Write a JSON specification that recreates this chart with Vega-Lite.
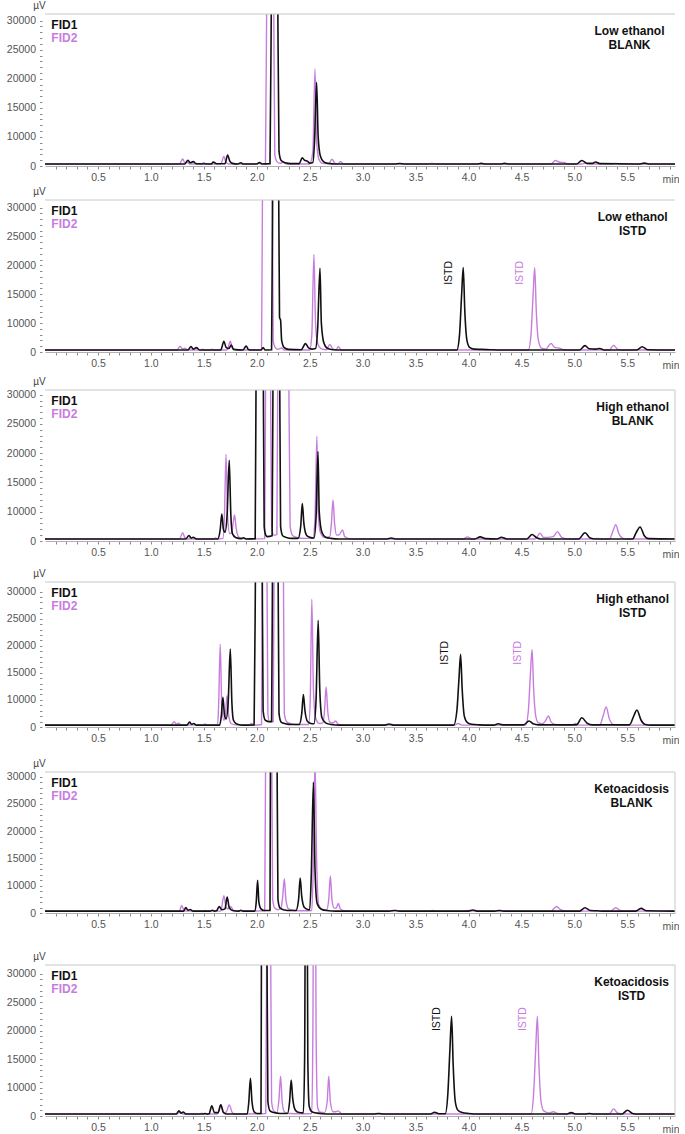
{
"$schema": "https://vega.github.io/schema/vega-lite/v6.json",
"background": "white",
"padding": {"left": 6, "top": 0, "right": 0, "bottom": 0},
"config": {"view": {"stroke": null}, "font": "Liberation Sans", "axis": {"labelOverlap": false}},
"bounds": "flush",
"spacing": 34,
"datasets": {
"p1": [
{"s":1,"t":0,"v":700},{"s":1,"t":1.32,"v":700},{"s":1,"t":1.35,"v":2000},{"s":1,"t":1.37,"v":1100},{"s":1,"t":1.40,"v":1500},{"s":1,"t":1.43,"v":750},{"s":1,"t":1.57,"v":700},{"s":1,"t":1.59,"v":1400},{"s":1,"t":1.62,"v":750},{"s":1,"t":1.70,"v":800},{"s":1,"t":1.725,"v":3800},{"s":1,"t":1.745,"v":1700},{"s":1,"t":1.77,"v":900},{"s":1,"t":1.82,"v":700},{"s":1,"t":1.85,"v":1100},{"s":1,"t":1.87,"v":700},{"s":1,"t":2.0,"v":700},{"s":1,"t":2.025,"v":1200},{"s":1,"t":2.05,"v":700},{"s":1,"t":2.125,"v":800},{"s":1,"t":2.14,"v":40000},{"s":1,"t":2.168,"v":90000},{"s":1,"t":2.196,"v":40000},{"s":1,"t":2.21,"v":5000},{"s":1,"t":2.23,"v":1900},{"s":1,"t":2.27,"v":1100},{"s":1,"t":2.32,"v":800},{"s":1,"t":2.40,"v":800},{"s":1,"t":2.43,"v":2800},{"s":1,"t":2.45,"v":2000},{"s":1,"t":2.48,"v":1600},{"s":1,"t":2.50,"v":1000},{"s":1,"t":2.53,"v":1200},{"s":1,"t":2.545,"v":8000},{"s":1,"t":2.565,"v":19400},{"s":1,"t":2.58,"v":10000},{"s":1,"t":2.60,"v":3500},{"s":1,"t":2.63,"v":1500},{"s":1,"t":2.67,"v":900},{"s":1,"t":2.75,"v":700},{"s":1,"t":3.3,"v":700},{"s":1,"t":3.35,"v":850},{"s":1,"t":3.4,"v":700},{"s":1,"t":4.08,"v":700},{"s":1,"t":4.12,"v":900},{"s":1,"t":4.16,"v":700},{"s":1,"t":4.3,"v":700},{"s":1,"t":4.34,"v":900},{"s":1,"t":4.38,"v":700},{"s":1,"t":5.02,"v":700},{"s":1,"t":5.07,"v":1900},{"s":1,"t":5.12,"v":900},{"s":1,"t":5.17,"v":900},{"s":1,"t":5.2,"v":1400},{"s":1,"t":5.24,"v":800},{"s":1,"t":5.62,"v":700},{"s":1,"t":5.66,"v":1000},{"s":1,"t":5.7,"v":700},{"s":1,"t":5.95,"v":700},
{"s":2,"t":0,"v":700},{"s":2,"t":1.27,"v":700},{"s":2,"t":1.30,"v":2400},{"s":2,"t":1.32,"v":1200},{"s":2,"t":1.34,"v":1300},{"s":2,"t":1.37,"v":700},{"s":2,"t":1.48,"v":700},{"s":2,"t":1.50,"v":1100},{"s":2,"t":1.52,"v":700},{"s":2,"t":1.66,"v":700},{"s":2,"t":1.69,"v":3300},{"s":2,"t":1.71,"v":1200},{"s":2,"t":1.74,"v":700},{"s":2,"t":2.082,"v":800},{"s":2,"t":2.096,"v":40000},{"s":2,"t":2.128,"v":90000},{"s":2,"t":2.158,"v":40000},{"s":2,"t":2.17,"v":4000},{"s":2,"t":2.19,"v":1500},{"s":2,"t":2.22,"v":900},{"s":2,"t":2.25,"v":1300},{"s":2,"t":2.28,"v":700},{"s":2,"t":2.5,"v":700},{"s":2,"t":2.53,"v":5000},{"s":2,"t":2.55,"v":21700},{"s":2,"t":2.565,"v":9000},{"s":2,"t":2.585,"v":2500},{"s":2,"t":2.62,"v":900},{"s":2,"t":2.68,"v":800},{"s":2,"t":2.71,"v":2300},{"s":2,"t":2.74,"v":900},{"s":2,"t":2.77,"v":800},{"s":2,"t":2.79,"v":1500},{"s":2,"t":2.82,"v":700},{"s":2,"t":3.6,"v":700},{"s":2,"t":3.65,"v":900},{"s":2,"t":3.7,"v":700},{"s":2,"t":4.78,"v":700},{"s":2,"t":4.82,"v":1900},{"s":2,"t":4.86,"v":1300},{"s":2,"t":4.9,"v":1200},{"s":2,"t":4.94,"v":700},{"s":2,"t":5.07,"v":700},{"s":2,"t":5.1,"v":900},{"s":2,"t":5.14,"v":700},{"s":2,"t":5.36,"v":700},{"s":2,"t":5.39,"v":900},{"s":2,"t":5.43,"v":700},{"s":2,"t":5.95,"v":700}
],
"p2": [
{"s":1,"t":0,"v":700},{"s":1,"t":1.35,"v":700},{"s":1,"t":1.38,"v":1900},{"s":1,"t":1.40,"v":1000},{"s":1,"t":1.43,"v":1500},{"s":1,"t":1.46,"v":700},{"s":1,"t":1.66,"v":700},{"s":1,"t":1.69,"v":3700},{"s":1,"t":1.71,"v":1600},{"s":1,"t":1.735,"v":1200},{"s":1,"t":1.76,"v":2400},{"s":1,"t":1.78,"v":900},{"s":1,"t":1.87,"v":700},{"s":1,"t":1.90,"v":2100},{"s":1,"t":1.92,"v":900},{"s":1,"t":1.95,"v":700},{"s":1,"t":2.04,"v":700},{"s":1,"t":2.06,"v":1500},{"s":1,"t":2.08,"v":700},{"s":1,"t":2.14,"v":800},{"s":1,"t":2.152,"v":40000},{"s":1,"t":2.18,"v":90000},{"s":1,"t":2.205,"v":40000},{"s":1,"t":2.215,"v":11000},{"s":1,"t":2.225,"v":10500},{"s":1,"t":2.235,"v":4000},{"s":1,"t":2.26,"v":1500},{"s":1,"t":2.3,"v":900},{"s":1,"t":2.42,"v":800},{"s":1,"t":2.46,"v":2900},{"s":1,"t":2.49,"v":1400},{"s":1,"t":2.52,"v":1000},{"s":1,"t":2.555,"v":1200},{"s":1,"t":2.575,"v":8000},{"s":1,"t":2.597,"v":19500},{"s":1,"t":2.61,"v":10000},{"s":1,"t":2.635,"v":3000},{"s":1,"t":2.67,"v":1200},{"s":1,"t":2.72,"v":800},{"s":1,"t":2.8,"v":700},{"s":1,"t":3.89,"v":700},{"s":1,"t":3.915,"v":6000},{"s":1,"t":3.935,"v":15000},{"s":1,"t":3.95,"v":19600},{"s":1,"t":3.965,"v":12000},{"s":1,"t":3.985,"v":4000},{"s":1,"t":4.01,"v":1600},{"s":1,"t":4.05,"v":1000},{"s":1,"t":4.12,"v":900},{"s":1,"t":4.2,"v":800},{"s":1,"t":4.3,"v":700},{"s":1,"t":5.05,"v":700},{"s":1,"t":5.10,"v":2200},{"s":1,"t":5.14,"v":1100},{"s":1,"t":5.2,"v":1000},{"s":1,"t":5.24,"v":1200},{"s":1,"t":5.28,"v":700},{"s":1,"t":5.59,"v":700},{"s":1,"t":5.64,"v":1800},{"s":1,"t":5.69,"v":800},{"s":1,"t":5.95,"v":700},
{"s":2,"t":0,"v":700},{"s":2,"t":1.25,"v":700},{"s":2,"t":1.275,"v":2000},{"s":2,"t":1.30,"v":1100},{"s":2,"t":1.32,"v":1300},{"s":2,"t":1.35,"v":700},{"s":2,"t":1.47,"v":700},{"s":2,"t":1.49,"v":1000},{"s":2,"t":1.51,"v":700},{"s":2,"t":1.56,"v":700},{"s":2,"t":1.58,"v":1000},{"s":2,"t":1.60,"v":700},{"s":2,"t":1.72,"v":700},{"s":2,"t":1.75,"v":3700},{"s":2,"t":1.77,"v":1300},{"s":2,"t":1.80,"v":700},{"s":2,"t":2.045,"v":800},{"s":2,"t":2.056,"v":40000},{"s":2,"t":2.10,"v":90000},{"s":2,"t":2.145,"v":40000},{"s":2,"t":2.155,"v":4000},{"s":2,"t":2.175,"v":1500},{"s":2,"t":2.2,"v":900},{"s":2,"t":2.235,"v":1400},{"s":2,"t":2.26,"v":700},{"s":2,"t":2.50,"v":700},{"s":2,"t":2.52,"v":6000},{"s":2,"t":2.54,"v":21900},{"s":2,"t":2.555,"v":10000},{"s":2,"t":2.575,"v":3000},{"s":2,"t":2.61,"v":1100},{"s":2,"t":2.66,"v":800},{"s":2,"t":2.69,"v":2600},{"s":2,"t":2.72,"v":1000},{"s":2,"t":2.75,"v":800},{"s":2,"t":2.77,"v":1800},{"s":2,"t":2.80,"v":700},{"s":2,"t":4.565,"v":700},{"s":2,"t":4.59,"v":6000},{"s":2,"t":4.61,"v":15000},{"s":2,"t":4.625,"v":19600},{"s":2,"t":4.64,"v":12000},{"s":2,"t":4.66,"v":4000},{"s":2,"t":4.69,"v":1300},{"s":2,"t":4.73,"v":1000},{"s":2,"t":4.78,"v":3000},{"s":2,"t":4.81,"v":1700},{"s":2,"t":4.86,"v":1300},{"s":2,"t":4.9,"v":800},{"s":2,"t":4.95,"v":700},{"s":2,"t":5.33,"v":700},{"s":2,"t":5.37,"v":2300},{"s":2,"t":5.41,"v":900},{"s":2,"t":5.45,"v":700},{"s":2,"t":5.95,"v":700}
],
"p3": [
{"s":1,"t":0,"v":700},{"s":1,"t":1.33,"v":700},{"s":1,"t":1.36,"v":1900},{"s":1,"t":1.38,"v":1000},{"s":1,"t":1.40,"v":1300},{"s":1,"t":1.43,"v":700},{"s":1,"t":1.63,"v":700},{"s":1,"t":1.655,"v":4000},{"s":1,"t":1.67,"v":9200},{"s":1,"t":1.685,"v":4000},{"s":1,"t":1.70,"v":3000},{"s":1,"t":1.72,"v":9000},{"s":1,"t":1.74,"v":18800},{"s":1,"t":1.755,"v":9000},{"s":1,"t":1.77,"v":2500},{"s":1,"t":1.80,"v":1200},{"s":1,"t":1.85,"v":800},{"s":1,"t":1.875,"v":1100},{"s":1,"t":1.90,"v":700},{"s":1,"t":1.985,"v":800},{"s":1,"t":1.995,"v":40000},{"s":1,"t":2.03,"v":90000},{"s":1,"t":2.06,"v":40000},{"s":1,"t":2.07,"v":5000},{"s":1,"t":2.085,"v":2000},{"s":1,"t":2.10,"v":1500},{"s":1,"t":2.145,"v":1800},{"s":1,"t":2.155,"v":40000},{"s":1,"t":2.185,"v":90000},{"s":1,"t":2.215,"v":40000},{"s":1,"t":2.225,"v":5000},{"s":1,"t":2.245,"v":1800},{"s":1,"t":2.28,"v":1200},{"s":1,"t":2.33,"v":900},{"s":1,"t":2.39,"v":900},{"s":1,"t":2.415,"v":5000},{"s":1,"t":2.43,"v":11400},{"s":1,"t":2.445,"v":6000},{"s":1,"t":2.47,"v":2000},{"s":1,"t":2.50,"v":1300},{"s":1,"t":2.54,"v":1000},{"s":1,"t":2.56,"v":8000},{"s":1,"t":2.578,"v":20300},{"s":1,"t":2.59,"v":10000},{"s":1,"t":2.615,"v":3000},{"s":1,"t":2.65,"v":1300},{"s":1,"t":2.70,"v":900},{"s":1,"t":2.78,"v":700},{"s":1,"t":3.23,"v":700},{"s":1,"t":3.27,"v":1000},{"s":1,"t":3.31,"v":700},{"s":1,"t":4.06,"v":700},{"s":1,"t":4.11,"v":1400},{"s":1,"t":4.16,"v":800},{"s":1,"t":4.27,"v":700},{"s":1,"t":4.31,"v":1300},{"s":1,"t":4.36,"v":700},{"s":1,"t":4.55,"v":700},{"s":1,"t":4.60,"v":2200},{"s":1,"t":4.64,"v":1200},{"s":1,"t":4.68,"v":700},{"s":1,"t":5.04,"v":700},{"s":1,"t":5.10,"v":2800},{"s":1,"t":5.15,"v":1000},{"s":1,"t":5.2,"v":700},{"s":1,"t":5.55,"v":700},{"s":1,"t":5.585,"v":3000},{"s":1,"t":5.62,"v":4800},{"s":1,"t":5.66,"v":1800},{"s":1,"t":5.70,"v":800},{"s":1,"t":5.95,"v":700},
{"s":2,"t":0,"v":700},{"s":2,"t":1.27,"v":700},{"s":2,"t":1.30,"v":2800},{"s":2,"t":1.32,"v":1200},{"s":2,"t":1.34,"v":700},{"s":2,"t":1.59,"v":700},{"s":2,"t":1.61,"v":1000},{"s":2,"t":1.63,"v":700},{"s":2,"t":1.68,"v":900},{"s":2,"t":1.695,"v":9000},{"s":2,"t":1.71,"v":19800},{"s":2,"t":1.725,"v":8000},{"s":2,"t":1.745,"v":2500},{"s":2,"t":1.765,"v":3000},{"s":2,"t":1.78,"v":7000},{"s":2,"t":1.79,"v":8900},{"s":2,"t":1.805,"v":4500},{"s":2,"t":1.83,"v":1300},{"s":2,"t":1.87,"v":800},{"s":2,"t":1.93,"v":700},{"s":2,"t":2.075,"v":800},{"s":2,"t":2.085,"v":40000},{"s":2,"t":2.11,"v":90000},{"s":2,"t":2.128,"v":40000},{"s":2,"t":2.14,"v":5000},{"s":2,"t":2.16,"v":2000},{"s":2,"t":2.19,"v":2200},{"s":2,"t":2.20,"v":40000},{"s":2,"t":2.25,"v":90000},{"s":2,"t":2.30,"v":40000},{"s":2,"t":2.315,"v":5000},{"s":2,"t":2.34,"v":1800},{"s":2,"t":2.38,"v":1200},{"s":2,"t":2.45,"v":900},{"s":2,"t":2.53,"v":900},{"s":2,"t":2.55,"v":8000},{"s":2,"t":2.568,"v":22900},{"s":2,"t":2.58,"v":10000},{"s":2,"t":2.60,"v":3000},{"s":2,"t":2.64,"v":1200},{"s":2,"t":2.69,"v":1500},{"s":2,"t":2.705,"v":6000},{"s":2,"t":2.72,"v":12000},{"s":2,"t":2.735,"v":6000},{"s":2,"t":2.755,"v":2000},{"s":2,"t":2.78,"v":2200},{"s":2,"t":2.81,"v":3800},{"s":2,"t":2.83,"v":1500},{"s":2,"t":2.87,"v":800},{"s":2,"t":2.95,"v":700},{"s":2,"t":3.95,"v":700},{"s":2,"t":3.99,"v":1400},{"s":2,"t":4.03,"v":700},{"s":2,"t":4.63,"v":700},{"s":2,"t":4.675,"v":2700},{"s":2,"t":4.71,"v":1200},{"s":2,"t":4.8,"v":1500},{"s":2,"t":4.84,"v":3200},{"s":2,"t":4.88,"v":1200},{"s":2,"t":4.93,"v":700},{"s":2,"t":5.18,"v":700},{"s":2,"t":5.21,"v":900},{"s":2,"t":5.25,"v":700},{"s":2,"t":5.33,"v":700},{"s":2,"t":5.37,"v":4000},{"s":2,"t":5.39,"v":5600},{"s":2,"t":5.42,"v":2500},{"s":2,"t":5.46,"v":900},{"s":2,"t":5.5,"v":700},{"s":2,"t":5.95,"v":700}
],
"p4": [
{"s":1,"t":0,"v":700},{"s":1,"t":1.34,"v":700},{"s":1,"t":1.365,"v":1800},{"s":1,"t":1.385,"v":1000},{"s":1,"t":1.405,"v":1300},{"s":1,"t":1.43,"v":700},{"s":1,"t":1.65,"v":700},{"s":1,"t":1.665,"v":4000},{"s":1,"t":1.68,"v":10500},{"s":1,"t":1.695,"v":4500},{"s":1,"t":1.71,"v":3000},{"s":1,"t":1.73,"v":9000},{"s":1,"t":1.75,"v":19400},{"s":1,"t":1.765,"v":9000},{"s":1,"t":1.78,"v":2500},{"s":1,"t":1.81,"v":1100},{"s":1,"t":1.86,"v":700},{"s":1,"t":1.975,"v":800},{"s":1,"t":1.99,"v":40000},{"s":1,"t":2.02,"v":90000},{"s":1,"t":2.05,"v":40000},{"s":1,"t":2.06,"v":6000},{"s":1,"t":2.08,"v":2500},{"s":1,"t":2.11,"v":2000},{"s":1,"t":2.14,"v":2000},{"s":1,"t":2.15,"v":40000},{"s":1,"t":2.175,"v":90000},{"s":1,"t":2.20,"v":40000},{"s":1,"t":2.21,"v":5000},{"s":1,"t":2.23,"v":1800},{"s":1,"t":2.27,"v":1200},{"s":1,"t":2.33,"v":900},{"s":1,"t":2.40,"v":900},{"s":1,"t":2.425,"v":5000},{"s":1,"t":2.44,"v":11000},{"s":1,"t":2.455,"v":6000},{"s":1,"t":2.48,"v":2000},{"s":1,"t":2.51,"v":1300},{"s":1,"t":2.54,"v":1200},{"s":1,"t":2.56,"v":10000},{"s":1,"t":2.58,"v":24700},{"s":1,"t":2.595,"v":12000},{"s":1,"t":2.615,"v":3500},{"s":1,"t":2.65,"v":1500},{"s":1,"t":2.70,"v":900},{"s":1,"t":2.78,"v":700},{"s":1,"t":3.21,"v":700},{"s":1,"t":3.25,"v":1100},{"s":1,"t":3.29,"v":700},{"s":1,"t":3.86,"v":700},{"s":1,"t":3.89,"v":6000},{"s":1,"t":3.91,"v":14000},{"s":1,"t":3.925,"v":18400},{"s":1,"t":3.94,"v":12000},{"s":1,"t":3.96,"v":4000},{"s":1,"t":3.99,"v":1600},{"s":1,"t":4.03,"v":1000},{"s":1,"t":4.1,"v":800},{"s":1,"t":4.2,"v":700},{"s":1,"t":4.24,"v":700},{"s":1,"t":4.28,"v":1200},{"s":1,"t":4.32,"v":800},{"s":1,"t":4.52,"v":800},{"s":1,"t":4.57,"v":2200},{"s":1,"t":4.61,"v":1200},{"s":1,"t":4.66,"v":800},{"s":1,"t":5.02,"v":800},{"s":1,"t":5.07,"v":3400},{"s":1,"t":5.12,"v":1400},{"s":1,"t":5.17,"v":800},{"s":1,"t":5.52,"v":800},{"s":1,"t":5.565,"v":4500},{"s":1,"t":5.59,"v":6300},{"s":1,"t":5.63,"v":2500},{"s":1,"t":5.67,"v":900},{"s":1,"t":5.72,"v":700},{"s":1,"t":5.95,"v":700},
{"s":2,"t":0,"v":700},{"s":2,"t":1.19,"v":700},{"s":2,"t":1.22,"v":2000},{"s":2,"t":1.24,"v":1100},{"s":2,"t":1.26,"v":1400},{"s":2,"t":1.29,"v":700},{"s":2,"t":1.49,"v":700},{"s":2,"t":1.51,"v":1100},{"s":2,"t":1.53,"v":700},{"s":2,"t":1.63,"v":700},{"s":2,"t":1.64,"v":8000},{"s":2,"t":1.655,"v":20300},{"s":2,"t":1.67,"v":7000},{"s":2,"t":1.69,"v":2500},{"s":2,"t":1.705,"v":5000},{"s":2,"t":1.72,"v":10800},{"s":2,"t":1.735,"v":4000},{"s":2,"t":1.76,"v":1200},{"s":2,"t":1.80,"v":800},{"s":2,"t":1.88,"v":700},{"s":2,"t":1.93,"v":700},{"s":2,"t":1.95,"v":1300},{"s":2,"t":1.97,"v":700},{"s":2,"t":2.045,"v":900},{"s":2,"t":2.055,"v":40000},{"s":2,"t":2.075,"v":90000},{"s":2,"t":2.095,"v":40000},{"s":2,"t":2.105,"v":5000},{"s":2,"t":2.12,"v":2000},{"s":2,"t":2.155,"v":2000},{"s":2,"t":2.165,"v":40000},{"s":2,"t":2.21,"v":90000},{"s":2,"t":2.25,"v":40000},{"s":2,"t":2.26,"v":5000},{"s":2,"t":2.285,"v":1800},{"s":2,"t":2.33,"v":1100},{"s":2,"t":2.40,"v":900},{"s":2,"t":2.49,"v":900},{"s":2,"t":2.505,"v":10000},{"s":2,"t":2.52,"v":28600},{"s":2,"t":2.535,"v":12000},{"s":2,"t":2.555,"v":3500},{"s":2,"t":2.59,"v":1300},{"s":2,"t":2.625,"v":1500},{"s":2,"t":2.64,"v":6000},{"s":2,"t":2.655,"v":12400},{"s":2,"t":2.67,"v":6000},{"s":2,"t":2.69,"v":1800},{"s":2,"t":2.72,"v":1500},{"s":2,"t":2.745,"v":2200},{"s":2,"t":2.77,"v":900},{"s":2,"t":2.85,"v":700},{"s":2,"t":3.87,"v":700},{"s":2,"t":3.9,"v":1300},{"s":2,"t":3.94,"v":700},{"s":2,"t":4.54,"v":700},{"s":2,"t":4.565,"v":6000},{"s":2,"t":4.585,"v":15000},{"s":2,"t":4.60,"v":19300},{"s":2,"t":4.615,"v":12000},{"s":2,"t":4.635,"v":4000},{"s":2,"t":4.66,"v":1500},{"s":2,"t":4.70,"v":1200},{"s":2,"t":4.73,"v":2500},{"s":2,"t":4.755,"v":4100},{"s":2,"t":4.78,"v":1800},{"s":2,"t":4.82,"v":900},{"s":2,"t":4.88,"v":700},{"s":2,"t":4.98,"v":700},{"s":2,"t":5.01,"v":1300},{"s":2,"t":5.04,"v":700},{"s":2,"t":5.24,"v":700},{"s":2,"t":5.27,"v":4000},{"s":2,"t":5.30,"v":7400},{"s":2,"t":5.33,"v":3000},{"s":2,"t":5.37,"v":900},{"s":2,"t":5.42,"v":700},{"s":2,"t":5.95,"v":700}
],
"p5": [
{"s":1,"t":0,"v":700},{"s":1,"t":1.31,"v":700},{"s":1,"t":1.33,"v":2000},{"s":1,"t":1.35,"v":1000},{"s":1,"t":1.37,"v":1300},{"s":1,"t":1.40,"v":700},{"s":1,"t":1.56,"v":700},{"s":1,"t":1.58,"v":1000},{"s":1,"t":1.60,"v":700},{"s":1,"t":1.62,"v":800},{"s":1,"t":1.645,"v":2400},{"s":1,"t":1.67,"v":1200},{"s":1,"t":1.70,"v":1500},{"s":1,"t":1.72,"v":5800},{"s":1,"t":1.74,"v":2000},{"s":1,"t":1.77,"v":900},{"s":1,"t":1.83,"v":700},{"s":1,"t":1.85,"v":1000},{"s":1,"t":1.87,"v":700},{"s":1,"t":1.98,"v":700},{"s":1,"t":1.995,"v":4000},{"s":1,"t":2.008,"v":11000},{"s":1,"t":2.02,"v":4000},{"s":1,"t":2.04,"v":1500},{"s":1,"t":2.07,"v":900},{"s":1,"t":2.125,"v":900},{"s":1,"t":2.13,"v":40000},{"s":1,"t":2.16,"v":90000},{"s":1,"t":2.19,"v":40000},{"s":1,"t":2.20,"v":5000},{"s":1,"t":2.22,"v":1800},{"s":1,"t":2.26,"v":1100},{"s":1,"t":2.32,"v":900},{"s":1,"t":2.37,"v":900},{"s":1,"t":2.395,"v":5000},{"s":1,"t":2.41,"v":11400},{"s":1,"t":2.425,"v":6000},{"s":1,"t":2.45,"v":2000},{"s":1,"t":2.48,"v":1300},{"s":1,"t":2.50,"v":1200},{"s":1,"t":2.515,"v":12000},{"s":1,"t":2.535,"v":29000},{"s":1,"t":2.55,"v":13000},{"s":1,"t":2.57,"v":3500},{"s":1,"t":2.61,"v":1400},{"s":1,"t":2.66,"v":900},{"s":1,"t":2.75,"v":700},{"s":1,"t":3.25,"v":700},{"s":1,"t":3.3,"v":900},{"s":1,"t":3.35,"v":700},{"s":1,"t":4.0,"v":700},{"s":1,"t":4.04,"v":1100},{"s":1,"t":4.08,"v":700},{"s":1,"t":4.25,"v":700},{"s":1,"t":4.29,"v":900},{"s":1,"t":4.33,"v":700},{"s":1,"t":5.05,"v":700},{"s":1,"t":5.1,"v":1900},{"s":1,"t":5.15,"v":900},{"s":1,"t":5.22,"v":800},{"s":1,"t":5.26,"v":700},{"s":1,"t":5.58,"v":700},{"s":1,"t":5.63,"v":1700},{"s":1,"t":5.68,"v":800},{"s":1,"t":5.95,"v":700},
{"s":2,"t":0,"v":700},{"s":2,"t":1.27,"v":700},{"s":2,"t":1.29,"v":2800},{"s":2,"t":1.31,"v":1200},{"s":2,"t":1.33,"v":700},{"s":2,"t":1.49,"v":700},{"s":2,"t":1.51,"v":900},{"s":2,"t":1.53,"v":700},{"s":2,"t":1.66,"v":700},{"s":2,"t":1.69,"v":6300},{"s":2,"t":1.71,"v":2000},{"s":2,"t":1.73,"v":1500},{"s":2,"t":1.755,"v":2300},{"s":2,"t":1.78,"v":900},{"s":2,"t":1.82,"v":700},{"s":2,"t":2.075,"v":800},{"s":2,"t":2.085,"v":40000},{"s":2,"t":2.11,"v":90000},{"s":2,"t":2.14,"v":40000},{"s":2,"t":2.15,"v":5000},{"s":2,"t":2.17,"v":1800},{"s":2,"t":2.2,"v":1200},{"s":2,"t":2.23,"v":2000},{"s":2,"t":2.245,"v":6000},{"s":2,"t":2.26,"v":11300},{"s":2,"t":2.275,"v":5000},{"s":2,"t":2.30,"v":1500},{"s":2,"t":2.35,"v":900},{"s":2,"t":2.45,"v":800},{"s":2,"t":2.52,"v":900},{"s":2,"t":2.535,"v":15000},{"s":2,"t":2.55,"v":33000},{"s":2,"t":2.565,"v":15000},{"s":2,"t":2.585,"v":3000},{"s":2,"t":2.62,"v":1300},{"s":2,"t":2.66,"v":1200},{"s":2,"t":2.68,"v":5000},{"s":2,"t":2.695,"v":11800},{"s":2,"t":2.71,"v":5000},{"s":2,"t":2.73,"v":1800},{"s":2,"t":2.75,"v":1800},{"s":2,"t":2.77,"v":3500},{"s":2,"t":2.79,"v":1500},{"s":2,"t":2.83,"v":800},{"s":2,"t":2.9,"v":700},{"s":2,"t":3.27,"v":700},{"s":2,"t":3.31,"v":900},{"s":2,"t":3.35,"v":700},{"s":2,"t":3.62,"v":700},{"s":2,"t":3.66,"v":900},{"s":2,"t":3.7,"v":700},{"s":2,"t":3.95,"v":700},{"s":2,"t":3.99,"v":900},{"s":2,"t":4.03,"v":700},{"s":2,"t":4.78,"v":700},{"s":2,"t":4.83,"v":2400},{"s":2,"t":4.87,"v":1200},{"s":2,"t":4.92,"v":700},{"s":2,"t":5.34,"v":700},{"s":2,"t":5.39,"v":1900},{"s":2,"t":5.44,"v":800},{"s":2,"t":5.5,"v":700},{"s":2,"t":5.95,"v":700}
],
"p6": [
{"s":1,"t":0,"v":700},{"s":1,"t":1.24,"v":700},{"s":1,"t":1.265,"v":1800},{"s":1,"t":1.285,"v":1000},{"s":1,"t":1.305,"v":1400},{"s":1,"t":1.33,"v":700},{"s":1,"t":1.49,"v":700},{"s":1,"t":1.51,"v":900},{"s":1,"t":1.53,"v":700},{"s":1,"t":1.55,"v":800},{"s":1,"t":1.575,"v":3600},{"s":1,"t":1.60,"v":1200},{"s":1,"t":1.635,"v":1200},{"s":1,"t":1.66,"v":3900},{"s":1,"t":1.685,"v":1200},{"s":1,"t":1.72,"v":700},{"s":1,"t":1.91,"v":700},{"s":1,"t":1.925,"v":5000},{"s":1,"t":1.94,"v":11600},{"s":1,"t":1.955,"v":5000},{"s":1,"t":1.975,"v":1500},{"s":1,"t":2.0,"v":900},{"s":1,"t":2.04,"v":900},{"s":1,"t":2.045,"v":40000},{"s":1,"t":2.07,"v":90000},{"s":1,"t":2.095,"v":40000},{"s":1,"t":2.105,"v":5000},{"s":1,"t":2.125,"v":1800},{"s":1,"t":2.16,"v":1200},{"s":1,"t":2.22,"v":900},{"s":1,"t":2.29,"v":900},{"s":1,"t":2.31,"v":5000},{"s":1,"t":2.325,"v":11300},{"s":1,"t":2.34,"v":6000},{"s":1,"t":2.365,"v":2000},{"s":1,"t":2.39,"v":1300},{"s":1,"t":2.44,"v":1100},{"s":1,"t":2.452,"v":15000},{"s":1,"t":2.467,"v":90000},{"s":1,"t":2.482,"v":15000},{"s":1,"t":2.495,"v":3500},{"s":1,"t":2.52,"v":1500},{"s":1,"t":2.57,"v":1000},{"s":1,"t":2.62,"v":800},{"s":1,"t":2.7,"v":700},{"s":1,"t":3.1,"v":700},{"s":1,"t":3.15,"v":900},{"s":1,"t":3.2,"v":700},{"s":1,"t":3.64,"v":700},{"s":1,"t":3.68,"v":1300},{"s":1,"t":3.72,"v":800},{"s":1,"t":3.78,"v":800},{"s":1,"t":3.805,"v":8000},{"s":1,"t":3.825,"v":17000},{"s":1,"t":3.84,"v":22500},{"s":1,"t":3.855,"v":14000},{"s":1,"t":3.875,"v":5000},{"s":1,"t":3.90,"v":2000},{"s":1,"t":3.94,"v":1200},{"s":1,"t":4.0,"v":900},{"s":1,"t":4.1,"v":700},{"s":1,"t":4.93,"v":700},{"s":1,"t":4.97,"v":1200},{"s":1,"t":5.01,"v":700},{"s":1,"t":5.1,"v":700},{"s":1,"t":5.14,"v":900},{"s":1,"t":5.18,"v":700},{"s":1,"t":5.45,"v":700},{"s":1,"t":5.5,"v":2000},{"s":1,"t":5.55,"v":900},{"s":1,"t":5.6,"v":700},{"s":1,"t":5.95,"v":700},
{"s":2,"t":0,"v":700},{"s":2,"t":1.25,"v":700},{"s":2,"t":1.275,"v":1500},{"s":2,"t":1.30,"v":700},{"s":2,"t":1.46,"v":700},{"s":2,"t":1.48,"v":1000},{"s":2,"t":1.50,"v":700},{"s":2,"t":1.63,"v":700},{"s":2,"t":1.66,"v":3900},{"s":2,"t":1.69,"v":1200},{"s":2,"t":1.71,"v":1300},{"s":2,"t":1.74,"v":3900},{"s":2,"t":1.77,"v":1100},{"s":2,"t":1.80,"v":700},{"s":2,"t":2.085,"v":900},{"s":2,"t":2.095,"v":40000},{"s":2,"t":2.115,"v":90000},{"s":2,"t":2.13,"v":40000},{"s":2,"t":2.14,"v":5000},{"s":2,"t":2.16,"v":1800},{"s":2,"t":2.19,"v":1200},{"s":2,"t":2.21,"v":6000},{"s":2,"t":2.225,"v":12000},{"s":2,"t":2.24,"v":5000},{"s":2,"t":2.26,"v":1500},{"s":2,"t":2.30,"v":900},{"s":2,"t":2.45,"v":800},{"s":2,"t":2.52,"v":900},{"s":2,"t":2.53,"v":20000},{"s":2,"t":2.545,"v":90000},{"s":2,"t":2.56,"v":20000},{"s":2,"t":2.575,"v":3000},{"s":2,"t":2.60,"v":1300},{"s":2,"t":2.64,"v":1200},{"s":2,"t":2.665,"v":5000},{"s":2,"t":2.68,"v":12000},{"s":2,"t":2.695,"v":5000},{"s":2,"t":2.72,"v":1500},{"s":2,"t":2.745,"v":1500},{"s":2,"t":2.77,"v":1800},{"s":2,"t":2.80,"v":800},{"s":2,"t":2.85,"v":700},{"s":2,"t":4.59,"v":700},{"s":2,"t":4.615,"v":8000},{"s":2,"t":4.635,"v":17000},{"s":2,"t":4.65,"v":22500},{"s":2,"t":4.665,"v":14000},{"s":2,"t":4.685,"v":5000},{"s":2,"t":4.71,"v":1800},{"s":2,"t":4.76,"v":1100},{"s":2,"t":4.80,"v":1500},{"s":2,"t":4.84,"v":900},{"s":2,"t":4.9,"v":700},{"s":2,"t":5.33,"v":700},{"s":2,"t":5.37,"v":2500},{"s":2,"t":5.41,"v":1000},{"s":2,"t":5.46,"v":700},{"s":2,"t":5.95,"v":700}
],
"ann": [
{"p":2,"s":1,"t":3.82,"v":18700,"label":"ISTD"},{"p":2,"s":2,"t":4.49,"v":18700,"label":"ISTD"},
{"p":4,"s":1,"t":3.78,"v":18700,"label":"ISTD"},{"p":4,"s":2,"t":4.47,"v":18700,"label":"ISTD"},
{"p":6,"s":1,"t":3.70,"v":22000,"label":"ISTD"},{"p":6,"s":2,"t":4.51,"v":22000,"label":"ISTD"}
]
},
"vconcat": [
{"width": 630, "height": 152, "layer": [
 {"data": {"name": "p1"}, "transform": [{"filter": "datum.s === 2"}], "mark": {"type": "line", "color": "#c77dde", "strokeWidth": 1.4, "clip": true, "interpolate": "monotone"},
  "encoding": {
   "x": {"field": "t", "type": "quantitative", "scale": {"domain": [0, 5.95], "nice": false, "zero": false},
    "axis": {"values": [0.1,0.2,0.3,0.4,0.5,0.6,0.7,0.8,0.9,1.0,1.1,1.2,1.3,1.4,1.5,1.6,1.7,1.8,1.9,2.0,2.1,2.2,2.3,2.4,2.5,2.6,2.7,2.8,2.9,3.0,3.1,3.2,3.3,3.4,3.5,3.6,3.7,3.8,3.9,4.0,4.1,4.2,4.3,4.4,4.5,4.6,4.7,4.8,4.9,5.0,5.1,5.2,5.3,5.4,5.5,5.6,5.7,5.8,5.9], "tickCount": 200, "labelExpr": "abs(datum.value*2-round(datum.value*2))<0.001 ? format(datum.value,'.1f') : ''", "tickSize": 3, "tickColor": "#8a8a8a", "domainColor": "#b0b0b0", "labelColor": "#555555", "labelFontSize": 10.5, "labelPadding": 3, "labelFlush": false, "labelOverlap": false, "grid": false, "offset": 0, "title": "min", "titleFontWeight": "normal", "titleFontSize": 10.5, "titleColor": "#555555", "titleAngle": 0, "titleAlign": "right", "titleBaseline": "alphabetic", "titleX": 634, "titleY": 16.6}},
   "y": {"field": "v", "type": "quantitative", "scale": {"domain": [0, 10000, 31150], "range": [152, 122.9, 0], "nice": false, "zero": false},
    "axis": {"values": [0,2000,4000,6000,8000,10000,11000,12000,13000,14000,15000,16000,17000,18000,19000,20000,21000,22000,23000,24000,25000,26000,27000,28000,29000,30000], "tickCount": 200, "labelExpr": "datum.value % 5000 === 0 ? format(datum.value,'d') : ''", "tickSize": 2.5, "domain": false, "tickColor": "#8a8a8a", "labelColor": "#555555", "labelFontSize": 10.5, "labelPadding": 4, "labelFlush": false, "labelOverlap": false, "grid": false, "offset": 3, "title": "µV", "titleAngle": 0, "titleAlign": "center", "titleBaseline": "middle", "titleX": -3, "titleY": -9, "titleFontWeight": "normal", "titleFontSize": 10, "titleColor": "#444444"}}
  }},
 {"data": {"name": "p1"}, "transform": [{"filter": "datum.s === 1"}], "mark": {"type": "line", "color": "#111111", "strokeWidth": 1.6, "clip": true, "interpolate": "monotone"}, "encoding": {"x": {"field": "t", "type": "quantitative"}, "y": {"field": "v", "type": "quantitative"}}},
 {"data": {"values": [{}]}, "mark": {"type": "rule", "color": "#c8c8c8", "strokeWidth": 1}, "encoding": {"y": {"datum": 31150, "type": "quantitative"}}},
 {"data": {"values": [{}]}, "mark": {"type": "text", "text": "FID1", "align": "left", "baseline": "middle", "fontSize": 12, "fontWeight": "bold", "color": "#111111"}, "encoding": {"x": {"datum": 0.06, "type": "quantitative"}, "y": {"datum": 29257, "type": "quantitative"}}},
 {"data": {"values": [{}]}, "mark": {"type": "text", "text": "FID2", "align": "left", "baseline": "middle", "fontSize": 12, "fontWeight": "bold", "color": "#c77dde"}, "encoding": {"x": {"datum": 0.06, "type": "quantitative"}, "y": {"datum": 27020, "type": "quantitative"}}},
 {"data": {"values": [{}]}, "mark": {"type": "text", "text": ["Low ethanol", "BLANK"], "align": "center", "baseline": "alphabetic", "lineHeight": 14.5, "fontSize": 12, "fontWeight": "bold", "color": "#111111"}, "encoding": {"x": {"datum": 5.52, "type": "quantitative"}, "y": {"datum": 27537, "type": "quantitative"}}}
]},
{"width": 630, "height": 156, "layer": [
 {"data": {"name": "p2"}, "transform": [{"filter": "datum.s === 2"}], "mark": {"type": "line", "color": "#c77dde", "strokeWidth": 1.4, "clip": true, "interpolate": "monotone"},
  "encoding": {
   "x": {"field": "t", "type": "quantitative", "scale": {"domain": [0, 5.95], "nice": false, "zero": false},
    "axis": {"values": [0.1,0.2,0.3,0.4,0.5,0.6,0.7,0.8,0.9,1.0,1.1,1.2,1.3,1.4,1.5,1.6,1.7,1.8,1.9,2.0,2.1,2.2,2.3,2.4,2.5,2.6,2.7,2.8,2.9,3.0,3.1,3.2,3.3,3.4,3.5,3.6,3.7,3.8,3.9,4.0,4.1,4.2,4.3,4.4,4.5,4.6,4.7,4.8,4.9,5.0,5.1,5.2,5.3,5.4,5.5,5.6,5.7,5.8,5.9], "tickCount": 200, "labelExpr": "abs(datum.value*2-round(datum.value*2))<0.001 ? format(datum.value,'.1f') : ''", "tickSize": 3, "tickColor": "#8a8a8a", "domainColor": "#b0b0b0", "labelColor": "#555555", "labelFontSize": 10.5, "labelPadding": 3, "labelFlush": false, "labelOverlap": false, "grid": false, "offset": -4, "title": "min", "titleFontWeight": "normal", "titleFontSize": 10.5, "titleColor": "#555555", "titleAngle": 0, "titleAlign": "right", "titleBaseline": "alphabetic", "titleX": 634, "titleY": 16.6}},
   "y": {"field": "v", "type": "quantitative", "scale": {"domain": [0, 10000, 31316], "range": [152, 123.1, 0], "nice": false, "zero": false},
    "axis": {"values": [0,2000,4000,6000,8000,10000,11000,12000,13000,14000,15000,16000,17000,18000,19000,20000,21000,22000,23000,24000,25000,26000,27000,28000,29000,30000], "tickCount": 200, "labelExpr": "datum.value % 5000 === 0 ? format(datum.value,'d') : ''", "tickSize": 2.5, "domain": false, "tickColor": "#8a8a8a", "labelColor": "#555555", "labelFontSize": 10.5, "labelPadding": 4, "labelFlush": false, "labelOverlap": false, "grid": false, "offset": 3, "title": "µV", "titleAngle": 0, "titleAlign": "center", "titleBaseline": "middle", "titleX": -3, "titleY": -9, "titleFontWeight": "normal", "titleFontSize": 10, "titleColor": "#444444"}}
  }},
 {"data": {"name": "p2"}, "transform": [{"filter": "datum.s === 1"}], "mark": {"type": "line", "color": "#111111", "strokeWidth": 1.6, "clip": true, "interpolate": "monotone"}, "encoding": {"x": {"field": "t", "type": "quantitative"}, "y": {"field": "v", "type": "quantitative"}}},
 {"data": {"values": [{}]}, "mark": {"type": "rule", "color": "#c8c8c8", "strokeWidth": 1}, "encoding": {"y": {"datum": 31316, "type": "quantitative"}}},
 {"data": {"values": [{}]}, "mark": {"type": "text", "text": "FID1", "align": "left", "baseline": "middle", "fontSize": 12, "fontWeight": "bold", "color": "#111111"}, "encoding": {"x": {"datum": 0.06, "type": "quantitative"}, "y": {"datum": 29412, "type": "quantitative"}}},
 {"data": {"values": [{}]}, "mark": {"type": "text", "text": "FID2", "align": "left", "baseline": "middle", "fontSize": 12, "fontWeight": "bold", "color": "#c77dde"}, "encoding": {"x": {"datum": 0.06, "type": "quantitative"}, "y": {"datum": 27161, "type": "quantitative"}}},
 {"data": {"values": [{}]}, "mark": {"type": "text", "text": ["Low ethanol", "ISTD"], "align": "center", "baseline": "alphabetic", "lineHeight": 14.5, "fontSize": 12, "fontWeight": "bold", "color": "#111111"}, "encoding": {"x": {"datum": 5.55, "type": "quantitative"}, "y": {"datum": 27680, "type": "quantitative"}}},
 {"data": {"name": "ann"}, "transform": [{"filter": "datum.p === 2"}], "mark": {"type": "text", "angle": 270, "align": "center", "baseline": "middle", "fontSize": 10.5}, "encoding": {"x": {"field": "t", "type": "quantitative"}, "y": {"field": "v", "type": "quantitative"}, "text": {"field": "label"}, "color": {"condition": {"test": "datum.s === 2", "value": "#c77dde"}, "value": "#111111"}}}
]},
{"width": 630, "height": 158, "layer": [
 {"data": {"name": "p3"}, "transform": [{"filter": "datum.s === 2"}], "mark": {"type": "line", "color": "#c77dde", "strokeWidth": 1.4, "clip": true, "interpolate": "monotone"},
  "encoding": {
   "x": {"field": "t", "type": "quantitative", "scale": {"domain": [0, 5.95], "nice": false, "zero": false},
    "axis": {"values": [0.1,0.2,0.3,0.4,0.5,0.6,0.7,0.8,0.9,1.0,1.1,1.2,1.3,1.4,1.5,1.6,1.7,1.8,1.9,2.0,2.1,2.2,2.3,2.4,2.5,2.6,2.7,2.8,2.9,3.0,3.1,3.2,3.3,3.4,3.5,3.6,3.7,3.8,3.9,4.0,4.1,4.2,4.3,4.4,4.5,4.6,4.7,4.8,4.9,5.0,5.1,5.2,5.3,5.4,5.5,5.6,5.7,5.8,5.9], "tickCount": 200, "labelExpr": "abs(datum.value*2-round(datum.value*2))<0.001 ? format(datum.value,'.1f') : ''", "tickSize": 3, "tickColor": "#8a8a8a", "domainColor": "#b0b0b0", "labelColor": "#555555", "labelFontSize": 10.5, "labelPadding": 3, "labelFlush": false, "labelOverlap": false, "grid": false, "offset": -7, "title": "min", "titleFontWeight": "normal", "titleFontSize": 10.5, "titleColor": "#555555", "titleAngle": 0, "titleAlign": "right", "titleBaseline": "alphabetic", "titleX": 634, "titleY": 16.6}},
   "y": {"field": "v", "type": "quantitative", "scale": {"domain": [0, 10000, 30803], "range": [151, 121.7, 0], "nice": false, "zero": false},
    "axis": {"values": [0,2000,4000,6000,8000,10000,11000,12000,13000,14000,15000,16000,17000,18000,19000,20000,21000,22000,23000,24000,25000,26000,27000,28000,29000,30000], "tickCount": 200, "labelExpr": "datum.value % 5000 === 0 ? format(datum.value,'d') : ''", "tickSize": 2.5, "domain": false, "tickColor": "#8a8a8a", "labelColor": "#555555", "labelFontSize": 10.5, "labelPadding": 4, "labelFlush": false, "labelOverlap": false, "grid": false, "offset": 3, "title": "µV", "titleAngle": 0, "titleAlign": "center", "titleBaseline": "middle", "titleX": -3, "titleY": -9, "titleFontWeight": "normal", "titleFontSize": 10, "titleColor": "#444444"}}
  }},
 {"data": {"name": "p3"}, "transform": [{"filter": "datum.s === 1"}], "mark": {"type": "line", "color": "#111111", "strokeWidth": 1.6, "clip": true, "interpolate": "monotone"}, "encoding": {"x": {"field": "t", "type": "quantitative"}, "y": {"field": "v", "type": "quantitative"}}},
 {"data": {"values": [{}]}, "mark": {"type": "rule", "color": "#c8c8c8", "strokeWidth": 1}, "encoding": {"y": {"datum": 30803, "type": "quantitative"}}},
 {"data": {"values": [{}]}, "mark": {"type": "rule", "color": "#c8c8c8", "strokeWidth": 1}, "encoding": {"x": {"datum": 5.95, "type": "quantitative"}, "y": {"datum": 0, "type": "quantitative"}, "y2": {"datum": 30803}}},
 {"data": {"values": [{}]}, "mark": {"type": "text", "text": "FID1", "align": "left", "baseline": "middle", "fontSize": 12, "fontWeight": "bold", "color": "#111111"}, "encoding": {"x": {"datum": 0.06, "type": "quantitative"}, "y": {"datum": 28923, "type": "quantitative"}}},
 {"data": {"values": [{}]}, "mark": {"type": "text", "text": "FID2", "align": "left", "baseline": "middle", "fontSize": 12, "fontWeight": "bold", "color": "#c77dde"}, "encoding": {"x": {"datum": 0.06, "type": "quantitative"}, "y": {"datum": 26702, "type": "quantitative"}}},
 {"data": {"values": [{}]}, "mark": {"type": "text", "text": ["High ethanol", "BLANK"], "align": "center", "baseline": "alphabetic", "lineHeight": 14.5, "fontSize": 12, "fontWeight": "bold", "color": "#111111"}, "encoding": {"x": {"datum": 5.55, "type": "quantitative"}, "y": {"datum": 27215, "type": "quantitative"}}}
]},
{"width": 630, "height": 156, "layer": [
 {"data": {"name": "p4"}, "transform": [{"filter": "datum.s === 2"}], "mark": {"type": "line", "color": "#c77dde", "strokeWidth": 1.4, "clip": true, "interpolate": "monotone"},
  "encoding": {
   "x": {"field": "t", "type": "quantitative", "scale": {"domain": [0, 5.95], "nice": false, "zero": false},
    "axis": {"values": [0.1,0.2,0.3,0.4,0.5,0.6,0.7,0.8,0.9,1.0,1.1,1.2,1.3,1.4,1.5,1.6,1.7,1.8,1.9,2.0,2.1,2.2,2.3,2.4,2.5,2.6,2.7,2.8,2.9,3.0,3.1,3.2,3.3,3.4,3.5,3.6,3.7,3.8,3.9,4.0,4.1,4.2,4.3,4.4,4.5,4.6,4.7,4.8,4.9,5.0,5.1,5.2,5.3,5.4,5.5,5.6,5.7,5.8,5.9], "tickCount": 200, "labelExpr": "abs(datum.value*2-round(datum.value*2))<0.001 ? format(datum.value,'.1f') : ''", "tickSize": 3, "tickColor": "#8a8a8a", "domainColor": "#b0b0b0", "labelColor": "#555555", "labelFontSize": 10.5, "labelPadding": 3, "labelFlush": false, "labelOverlap": false, "grid": false, "offset": -11, "title": "min", "titleFontWeight": "normal", "titleFontSize": 10.5, "titleColor": "#555555", "titleAngle": 0, "titleAlign": "right", "titleBaseline": "alphabetic", "titleX": 634, "titleY": 16.6}},
   "y": {"field": "v", "type": "quantitative", "scale": {"domain": [0, 10000, 31772], "range": [145, 117.9, 0], "nice": false, "zero": false},
    "axis": {"values": [0,2000,4000,6000,8000,10000,11000,12000,13000,14000,15000,16000,17000,18000,19000,20000,21000,22000,23000,24000,25000,26000,27000,28000,29000,30000], "tickCount": 200, "labelExpr": "datum.value % 5000 === 0 ? format(datum.value,'d') : ''", "tickSize": 2.5, "domain": false, "tickColor": "#8a8a8a", "labelColor": "#555555", "labelFontSize": 10.5, "labelPadding": 4, "labelFlush": false, "labelOverlap": false, "grid": false, "offset": 3, "title": "µV", "titleAngle": 0, "titleAlign": "center", "titleBaseline": "middle", "titleX": -3, "titleY": -9, "titleFontWeight": "normal", "titleFontSize": 10, "titleColor": "#444444"}}
  }},
 {"data": {"name": "p4"}, "transform": [{"filter": "datum.s === 1"}], "mark": {"type": "line", "color": "#111111", "strokeWidth": 1.6, "clip": true, "interpolate": "monotone"}, "encoding": {"x": {"field": "t", "type": "quantitative"}, "y": {"field": "v", "type": "quantitative"}}},
 {"data": {"values": [{}]}, "mark": {"type": "rule", "color": "#c8c8c8", "strokeWidth": 1}, "encoding": {"y": {"datum": 31772, "type": "quantitative"}}},
 {"data": {"values": [{}]}, "mark": {"type": "rule", "color": "#c8c8c8", "strokeWidth": 1}, "encoding": {"x": {"datum": 5.95, "type": "quantitative"}, "y": {"datum": 0, "type": "quantitative"}, "y2": {"datum": 31772}}},
 {"data": {"values": [{}]}, "mark": {"type": "text", "text": "FID1", "align": "left", "baseline": "middle", "fontSize": 12, "fontWeight": "bold", "color": "#111111"}, "encoding": {"x": {"datum": 0.06, "type": "quantitative"}, "y": {"datum": 29741, "type": "quantitative"}}},
 {"data": {"values": [{}]}, "mark": {"type": "text", "text": "FID2", "align": "left", "baseline": "middle", "fontSize": 12, "fontWeight": "bold", "color": "#c77dde"}, "encoding": {"x": {"datum": 0.06, "type": "quantitative"}, "y": {"datum": 27341, "type": "quantitative"}}},
 {"data": {"values": [{}]}, "mark": {"type": "text", "text": ["High ethanol", "ISTD"], "align": "center", "baseline": "alphabetic", "lineHeight": 14.5, "fontSize": 12, "fontWeight": "bold", "color": "#111111"}, "encoding": {"x": {"datum": 5.55, "type": "quantitative"}, "y": {"datum": 27895, "type": "quantitative"}}},
 {"data": {"name": "ann"}, "transform": [{"filter": "datum.p === 4"}], "mark": {"type": "text", "angle": 270, "align": "center", "baseline": "middle", "fontSize": 10.5}, "encoding": {"x": {"field": "t", "type": "quantitative"}, "y": {"field": "v", "type": "quantitative"}, "text": {"field": "label"}, "color": {"condition": {"test": "datum.s === 2", "value": "#c77dde"}, "value": "#111111"}}}
]},
{"width": 630, "height": 159, "layer": [
 {"data": {"name": "p5"}, "transform": [{"filter": "datum.s === 2"}], "mark": {"type": "line", "color": "#c77dde", "strokeWidth": 1.4, "clip": true, "interpolate": "monotone"},
  "encoding": {
   "x": {"field": "t", "type": "quantitative", "scale": {"domain": [0, 5.95], "nice": false, "zero": false},
    "axis": {"values": [0.1,0.2,0.3,0.4,0.5,0.6,0.7,0.8,0.9,1.0,1.1,1.2,1.3,1.4,1.5,1.6,1.7,1.8,1.9,2.0,2.1,2.2,2.3,2.4,2.5,2.6,2.7,2.8,2.9,3.0,3.1,3.2,3.3,3.4,3.5,3.6,3.7,3.8,3.9,4.0,4.1,4.2,4.3,4.4,4.5,4.6,4.7,4.8,4.9,5.0,5.1,5.2,5.3,5.4,5.5,5.6,5.7,5.8,5.9], "tickCount": 200, "labelExpr": "abs(datum.value*2-round(datum.value*2))<0.001 ? format(datum.value,'.1f') : ''", "tickSize": 3, "tickColor": "#8a8a8a", "domainColor": "#b0b0b0", "labelColor": "#555555", "labelFontSize": 10.5, "labelPadding": 3, "labelFlush": false, "labelOverlap": false, "grid": false, "offset": -18, "title": "min", "titleFontWeight": "normal", "titleFontSize": 10.5, "titleColor": "#555555", "titleAngle": 0, "titleAlign": "right", "titleBaseline": "alphabetic", "titleX": 634, "titleY": 16.6}},
   "y": {"field": "v", "type": "quantitative", "scale": {"domain": [0, 10000, 30843], "range": [141, 113.7, 0], "nice": false, "zero": false},
    "axis": {"values": [0,2000,4000,6000,8000,10000,11000,12000,13000,14000,15000,16000,17000,18000,19000,20000,21000,22000,23000,24000,25000,26000,27000,28000,29000,30000], "tickCount": 200, "labelExpr": "datum.value % 5000 === 0 ? format(datum.value,'d') : ''", "tickSize": 2.5, "domain": false, "tickColor": "#8a8a8a", "labelColor": "#555555", "labelFontSize": 10.5, "labelPadding": 4, "labelFlush": false, "labelOverlap": false, "grid": false, "offset": 3, "title": "µV", "titleAngle": 0, "titleAlign": "center", "titleBaseline": "middle", "titleX": -3, "titleY": -9, "titleFontWeight": "normal", "titleFontSize": 10, "titleColor": "#444444"}}
  }},
 {"data": {"name": "p5"}, "transform": [{"filter": "datum.s === 1"}], "mark": {"type": "line", "color": "#111111", "strokeWidth": 1.6, "clip": true, "interpolate": "monotone"}, "encoding": {"x": {"field": "t", "type": "quantitative"}, "y": {"field": "v", "type": "quantitative"}}},
 {"data": {"values": [{}]}, "mark": {"type": "rule", "color": "#c8c8c8", "strokeWidth": 1}, "encoding": {"y": {"datum": 30843, "type": "quantitative"}}},
 {"data": {"values": [{}]}, "mark": {"type": "rule", "color": "#c8c8c8", "strokeWidth": 1}, "encoding": {"x": {"datum": 5.95, "type": "quantitative"}, "y": {"datum": 0, "type": "quantitative"}, "y2": {"datum": 30843}}},
 {"data": {"values": [{}]}, "mark": {"type": "text", "text": "FID1", "align": "left", "baseline": "middle", "fontSize": 12, "fontWeight": "bold", "color": "#111111"}, "encoding": {"x": {"datum": 0.06, "type": "quantitative"}, "y": {"datum": 28827, "type": "quantitative"}}},
 {"data": {"values": [{}]}, "mark": {"type": "text", "text": "FID2", "align": "left", "baseline": "middle", "fontSize": 12, "fontWeight": "bold", "color": "#c77dde"}, "encoding": {"x": {"datum": 0.06, "type": "quantitative"}, "y": {"datum": 26444, "type": "quantitative"}}},
 {"data": {"values": [{}]}, "mark": {"type": "text", "text": ["Ketoacidosis", "BLANK"], "align": "center", "baseline": "alphabetic", "lineHeight": 14.5, "fontSize": 12, "fontWeight": "bold", "color": "#111111"}, "encoding": {"x": {"datum": 5.54, "type": "quantitative"}, "y": {"datum": 26994, "type": "quantitative"}}}
]},
{"width": 630, "height": 151, "layer": [
 {"data": {"name": "p6"}, "transform": [{"filter": "datum.s === 2"}], "mark": {"type": "line", "color": "#c77dde", "strokeWidth": 1.4, "clip": true, "interpolate": "monotone"},
  "encoding": {
   "x": {"field": "t", "type": "quantitative", "scale": {"domain": [0, 5.95], "nice": false, "zero": false},
    "axis": {"values": [0.1,0.2,0.3,0.4,0.5,0.6,0.7,0.8,0.9,1.0,1.1,1.2,1.3,1.4,1.5,1.6,1.7,1.8,1.9,2.0,2.1,2.2,2.3,2.4,2.5,2.6,2.7,2.8,2.9,3.0,3.1,3.2,3.3,3.4,3.5,3.6,3.7,3.8,3.9,4.0,4.1,4.2,4.3,4.4,4.5,4.6,4.7,4.8,4.9,5.0,5.1,5.2,5.3,5.4,5.5,5.6,5.7,5.8,5.9], "tickCount": 200, "labelExpr": "abs(datum.value*2-round(datum.value*2))<0.001 ? format(datum.value,'.1f') : ''", "tickSize": 3, "tickColor": "#8a8a8a", "domainColor": "#b0b0b0", "labelColor": "#555555", "labelFontSize": 10.5, "labelPadding": 3, "labelFlush": false, "labelOverlap": false, "grid": false, "offset": 0, "title": "min", "titleFontWeight": "normal", "titleFontSize": 10.5, "titleColor": "#555555", "titleAngle": 0, "titleAlign": "right", "titleBaseline": "alphabetic", "titleX": 634, "titleY": 16.6}},
   "y": {"field": "v", "type": "quantitative", "scale": {"domain": [0, 10000, 31510], "range": [151, 122.5, 0], "nice": false, "zero": false},
    "axis": {"values": [0,2000,4000,6000,8000,10000,11000,12000,13000,14000,15000,16000,17000,18000,19000,20000,21000,22000,23000,24000,25000,26000,27000,28000,29000,30000], "tickCount": 200, "labelExpr": "datum.value % 5000 === 0 ? format(datum.value,'d') : ''", "tickSize": 2.5, "domain": false, "tickColor": "#8a8a8a", "labelColor": "#555555", "labelFontSize": 10.5, "labelPadding": 4, "labelFlush": false, "labelOverlap": false, "grid": false, "offset": 3, "title": "µV", "titleAngle": 0, "titleAlign": "center", "titleBaseline": "middle", "titleX": -3, "titleY": -9, "titleFontWeight": "normal", "titleFontSize": 10, "titleColor": "#444444"}}
  }},
 {"data": {"name": "p6"}, "transform": [{"filter": "datum.s === 1"}], "mark": {"type": "line", "color": "#111111", "strokeWidth": 1.6, "clip": true, "interpolate": "monotone"}, "encoding": {"x": {"field": "t", "type": "quantitative"}, "y": {"field": "v", "type": "quantitative"}}},
 {"data": {"values": [{}]}, "mark": {"type": "rule", "color": "#c8c8c8", "strokeWidth": 1}, "encoding": {"y": {"datum": 31510, "type": "quantitative"}}},
 {"data": {"values": [{}]}, "mark": {"type": "rule", "color": "#c8c8c8", "strokeWidth": 1}, "encoding": {"x": {"datum": 5.95, "type": "quantitative"}, "y": {"datum": 0, "type": "quantitative"}, "y2": {"datum": 31510}}},
 {"data": {"values": [{}]}, "mark": {"type": "text", "text": "FID1", "align": "left", "baseline": "middle", "fontSize": 12, "fontWeight": "bold", "color": "#111111"}, "encoding": {"x": {"datum": 0.06, "type": "quantitative"}, "y": {"datum": 29579, "type": "quantitative"}}},
 {"data": {"values": [{}]}, "mark": {"type": "text", "text": "FID2", "align": "left", "baseline": "middle", "fontSize": 12, "fontWeight": "bold", "color": "#c77dde"}, "encoding": {"x": {"datum": 0.06, "type": "quantitative"}, "y": {"datum": 27296, "type": "quantitative"}}},
 {"data": {"values": [{}]}, "mark": {"type": "text", "text": ["Ketoacidosis", "ISTD"], "align": "center", "baseline": "alphabetic", "lineHeight": 14.5, "fontSize": 12, "fontWeight": "bold", "color": "#111111"}, "encoding": {"x": {"datum": 5.54, "type": "quantitative"}, "y": {"datum": 27823, "type": "quantitative"}}},
 {"data": {"name": "ann"}, "transform": [{"filter": "datum.p === 6"}], "mark": {"type": "text", "angle": 270, "align": "center", "baseline": "middle", "fontSize": 10.5}, "encoding": {"x": {"field": "t", "type": "quantitative"}, "y": {"field": "v", "type": "quantitative"}, "text": {"field": "label"}, "color": {"condition": {"test": "datum.s === 2", "value": "#c77dde"}, "value": "#111111"}}}
]}
]
}
